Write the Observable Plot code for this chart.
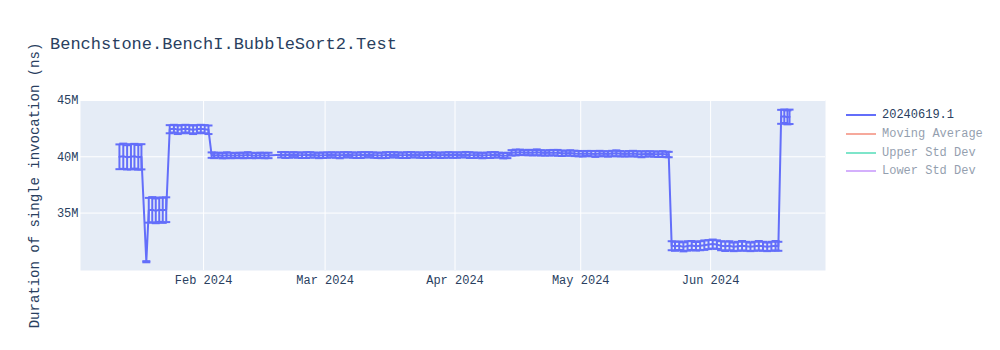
<!DOCTYPE html>
<html>
<head>
<meta charset="utf-8">
<script src="https://cdn.jsdelivr.net/npm/d3@7"></script>
<script src="https://cdn.jsdelivr.net/npm/@observablehq/plot@0.6"></script>
<style>
  body { margin: 0; background: #fff; }
  #wrap { position: relative; width: 1000px; height: 350px; font-family: "Liberation Mono", "DejaVu Sans Mono", monospace; }
  #chart svg { display: block; }
  #title { position: absolute; left: 50px; top: 35px; font-size: 17px; line-height: 20px; color: #2a3f5f; white-space: nowrap; }
  #legend { position: absolute; left: 846px; top: 106px; font-size: 12px; color: #2a3f5f; }
  .row { height: 18.7px; display: flex; align-items: center; white-space: nowrap; }
  .sw { width: 30px; height: 2px; margin-right: 6px; }
</style>
</head>
<body>
<div id="wrap">
  <div id="chart"></div>
  <div id="title"></div>
  <div id="legend"></div>
</div>
<script>
// ---------------- data ----------------
const chartTitle = "Benchstone.BenchI.BubbleSort2.Test";
const yLabel = "Duration of single invocation (ns)";
const legendNames = ["20240619.1", "Moving Average", "Upper Std Dev", "Lower Std Dev"];
const legendHidden = [false, true, true, true];
const monthTicks = ["2024-02-01", "2024-03-01", "2024-04-01", "2024-05-01", "2024-06-01"];
const yTicks = [35e6, 40e6, 45e6];

// run timestamps (UTC)
const runDates = [
  // Jan cluster ~40M
  "2024-01-11T22:00","2024-01-12T20:00","2024-01-13T18:00","2024-01-14T16:00","2024-01-15T12:00","2024-01-16T10:00","2024-01-17T04:00",
  // dip
  "2024-01-18T08:00",
  // ~35M cluster
  "2024-01-18T22:00","2024-01-19T18:00","2024-01-20T14:00","2024-01-21T10:00","2024-01-22T06:00","2024-01-23T02:00",
  // ~42.5M cluster
  "2024-01-23T22:00","2024-01-24T22:00","2024-01-25T20:00","2024-01-26T18:00","2024-01-27T16:00","2024-01-28T14:00",
  "2024-01-29T12:00","2024-01-30T10:00","2024-01-31T08:00","2024-02-01T06:00","2024-02-02T04:00",
  // flat ~40.2M
  "2024-02-02T22:00",
  "2024-02-03","2024-02-04","2024-02-05","2024-02-06","2024-02-07","2024-02-08","2024-02-09","2024-02-10",
  "2024-02-11","2024-02-12","2024-02-13","2024-02-14","2024-02-15","2024-02-16",
  "2024-02-19","2024-02-20","2024-02-21","2024-02-22","2024-02-23","2024-02-24","2024-02-25","2024-02-26",
  "2024-02-27","2024-02-28","2024-02-29",
  "2024-03-01","2024-03-02","2024-03-03","2024-03-04","2024-03-05","2024-03-06","2024-03-07","2024-03-08",
  "2024-03-09","2024-03-10","2024-03-11","2024-03-12","2024-03-13","2024-03-14","2024-03-15","2024-03-16",
  "2024-03-17","2024-03-18","2024-03-19","2024-03-20","2024-03-21","2024-03-22","2024-03-23","2024-03-24",
  "2024-03-25","2024-03-26","2024-03-27","2024-03-28","2024-03-29","2024-03-30","2024-03-31",
  "2024-04-01","2024-04-02","2024-04-03","2024-04-04","2024-04-05","2024-04-06","2024-04-07","2024-04-08",
  "2024-04-09","2024-04-10","2024-04-11","2024-04-12","2024-04-13",
  "2024-04-14","2024-04-15","2024-04-16","2024-04-17","2024-04-18","2024-04-19","2024-04-20","2024-04-21",
  "2024-04-22","2024-04-23","2024-04-24","2024-04-25","2024-04-26","2024-04-27","2024-04-28","2024-04-29","2024-04-30",
  "2024-05-01","2024-05-02","2024-05-03","2024-05-04","2024-05-05","2024-05-06","2024-05-07","2024-05-08",
  "2024-05-09","2024-05-10","2024-05-11","2024-05-12","2024-05-13","2024-05-14","2024-05-15","2024-05-16",
  "2024-05-17","2024-05-18","2024-05-19","2024-05-20","2024-05-21",
  "2024-05-22T00:00",
  // low ~32M
  "2024-05-22T17:00",
  "2024-05-23","2024-05-24","2024-05-25","2024-05-26","2024-05-27","2024-05-28","2024-05-29","2024-05-30","2024-05-31",
  "2024-06-01","2024-06-02","2024-06-03","2024-06-04","2024-06-05","2024-06-06","2024-06-07","2024-06-08",
  "2024-06-09","2024-06-10","2024-06-11","2024-06-12","2024-06-13","2024-06-14","2024-06-15","2024-06-16",
  "2024-06-17T04:00",
  // final jump ~43.6M
  "2024-06-17T20:00","2024-06-18T14:00","2024-06-19T08:00","2024-06-19T20:00"
];

// mean duration, millions of ns
const meanM = [
  40.0, 40.05, 39.95, 40.0, 40.05, 39.95, 40.0,
  30.68,
  35.25, 35.3, 35.2, 35.3, 35.25, 35.3,
  42.45, 42.5, 42.4, 42.45, 42.5, 42.45, 42.4, 42.45, 42.5, 42.45, 42.4,
  40.15,
  40.12, 40.15, 40.1, 40.14, 40.12, 40.1, 40.13, 40.11, 40.15, 40.12, 40.1, 40.13, 40.11, 40.12,
  40.18, 40.16, 40.15, 40.19, 40.15, 40.13, 40.15, 40.17, 40.15, 40.12, 40.14,
  40.15, 40.18, 40.15, 40.13, 40.17, 40.19, 40.15, 40.13, 40.15, 40.17, 40.19, 40.15, 40.13, 40.12, 40.15, 40.17,
  40.19, 40.15, 40.13, 40.15, 40.18, 40.17, 40.15, 40.13, 40.15, 40.17, 40.15, 40.13, 40.15, 40.17, 40.15,
  40.15, 40.17, 40.19, 40.15, 40.13, 40.15, 40.11, 40.13, 40.15, 40.18, 40.15, 40.1, 40.12,
  40.35, 40.38, 40.4, 40.36, 40.38, 40.36, 40.4, 40.35, 40.33, 40.35, 40.37, 40.35, 40.31, 40.32, 40.34, 40.3, 40.28,
  40.26, 40.3, 40.28, 40.25, 40.29, 40.27, 40.25, 40.29, 40.31, 40.27, 40.25, 40.27, 40.29, 40.25, 40.22, 40.25,
  40.27, 40.24, 40.22, 40.24, 40.21,
  40.2,
  32.1,
  32.05, 32.1, 32.0, 32.08, 32.12, 32.05, 32.1, 32.15, 32.2,
  32.25, 32.2, 32.1, 32.05, 32.1, 32.0, 32.05, 32.1, 32.05, 32.0, 32.05, 32.1, 32.05, 32.0, 32.05, 32.1,
  32.05,
  43.55, 43.6, 43.5, 43.55
];

// standard deviation, millions of ns
const stdM = [
  1.1, 1.12, 1.08, 1.12, 1.1, 1.1, 1.12,
  0.05,
  1.1, 1.12, 1.1, 1.08, 1.12, 1.1,
  0.36, 0.34, 0.38, 0.36, 0.34, 0.36, 0.38, 0.36, 0.34, 0.36, 0.38,
  0.24,
  0.24, 0.22, 0.24, 0.26, 0.24, 0.22, 0.24, 0.24, 0.26, 0.24, 0.22, 0.24, 0.24, 0.24,
  0.24, 0.26, 0.24, 0.22, 0.24, 0.24, 0.26, 0.24, 0.22, 0.24, 0.24,
  0.24, 0.22, 0.24, 0.26, 0.24, 0.22, 0.24, 0.24, 0.26, 0.24, 0.22, 0.24, 0.24, 0.24, 0.26, 0.24,
  0.22, 0.24, 0.24, 0.26, 0.24, 0.22, 0.24, 0.24, 0.26, 0.24, 0.22, 0.24, 0.24, 0.24, 0.24,
  0.24, 0.22, 0.24, 0.26, 0.24, 0.22, 0.24, 0.24, 0.26, 0.24, 0.22, 0.24, 0.24,
  0.24, 0.26, 0.24, 0.22, 0.24, 0.24, 0.26, 0.24, 0.22, 0.24, 0.24, 0.26, 0.24, 0.22, 0.24, 0.24, 0.24,
  0.24, 0.22, 0.24, 0.26, 0.24, 0.22, 0.24, 0.24, 0.26, 0.24, 0.22, 0.24, 0.24, 0.24, 0.26, 0.24,
  0.22, 0.24, 0.24, 0.26, 0.24,
  0.24,
  0.4,
  0.4, 0.38, 0.4, 0.42, 0.4, 0.38, 0.4, 0.42, 0.4,
  0.4, 0.38, 0.4, 0.42, 0.4, 0.38, 0.4, 0.42, 0.4, 0.38, 0.4, 0.42, 0.4, 0.38, 0.4, 0.42,
  0.4,
  0.62, 0.6, 0.62, 0.64
];

// ---------------- styles ----------------
const traceColor = "#636efa";
const legendColors = ["#636efa", "#EF553B", "#00cc96", "#ab63fa"];
const fontStack = '"Liberation Mono", "DejaVu Sans Mono", monospace';

const parseDate = s => new Date(s.length === 10 ? s + "T12:00:00Z" : s + ":00Z");

const points = runDates.map((d, i) => ({
  date: parseDate(d),
  value: meanM[i] * 1e6,
  lo: (meanM[i] - stdM[i]) * 1e6,
  hi: (meanM[i] + stdM[i]) * 1e6
}));

const tickDates = monthTicks.map(s => new Date(s + "T00:00:00Z"));

// horizontal cap symbol for error bars
const capSymbol = {
  draw(ctx, size) {
    const w = Math.sqrt(size / Math.PI);
    ctx.moveTo(-w, 0);
    ctx.lineTo(w, 0);
  }
};

const chart = Plot.plot({
  width: 1000,
  height: 350,
  marginLeft: 80,
  marginRight: 175,
  marginTop: 100,
  marginBottom: 80,
  style: { fontFamily: fontStack, fontSize: "12px", color: "#2a3f5f", background: "transparent", overflow: "visible" },
  x: { type: "utc", domain: [new Date("2024-01-02T15:00:00Z"), new Date("2024-06-28T10:00:00Z")] },
  y: { domain: [29.9e6, 45.0e6] },
  marks: [
    Plot.frame({ fill: "#e5ecf6", stroke: "none" }),
    Plot.gridX(tickDates, { stroke: "#ffffff", strokeOpacity: 1, strokeWidth: 1 }),
    Plot.gridY(yTicks, { stroke: "#ffffff", strokeOpacity: 1, strokeWidth: 1 }),
    Plot.ruleX(points, { x: "date", y1: "lo", y2: "hi", stroke: traceColor, strokeWidth: 2 }),
    Plot.dot(points, { x: "date", y: "lo", symbol: capSymbol, r: 4, stroke: traceColor, strokeWidth: 2, fill: "none" }),
    Plot.dot(points, { x: "date", y: "hi", symbol: capSymbol, r: 4, stroke: traceColor, strokeWidth: 2, fill: "none" }),
    Plot.line(points, { x: "date", y: "value", stroke: traceColor, strokeWidth: 2 }),
    Plot.axisX(tickDates, { tickSize: 0, tickPadding: 5, tickFormat: d3.utcFormat("%b %Y"), label: null }),
    Plot.axisY(yTicks, { tickSize: 0, tickPadding: 2, tickFormat: "~s", label: null }),
    Plot.axisY([], { label: yLabel, labelAnchor: "center", labelOffset: 51, labelArrow: "none", fontSize: 14 })
  ]
});
document.getElementById("chart").appendChild(chart);

document.getElementById("title").textContent = chartTitle;

const legend = document.getElementById("legend");
legendNames.forEach((name, i) => {
  const row = document.createElement("div");
  row.className = "row";
  if (legendHidden[i]) row.style.opacity = 0.5;
  const sw = document.createElement("div");
  sw.className = "sw";
  sw.style.background = legendColors[i];
  const tx = document.createElement("span");
  tx.textContent = name;
  row.appendChild(sw);
  row.appendChild(tx);
  legend.appendChild(row);
});
</script>
</body>
</html>
